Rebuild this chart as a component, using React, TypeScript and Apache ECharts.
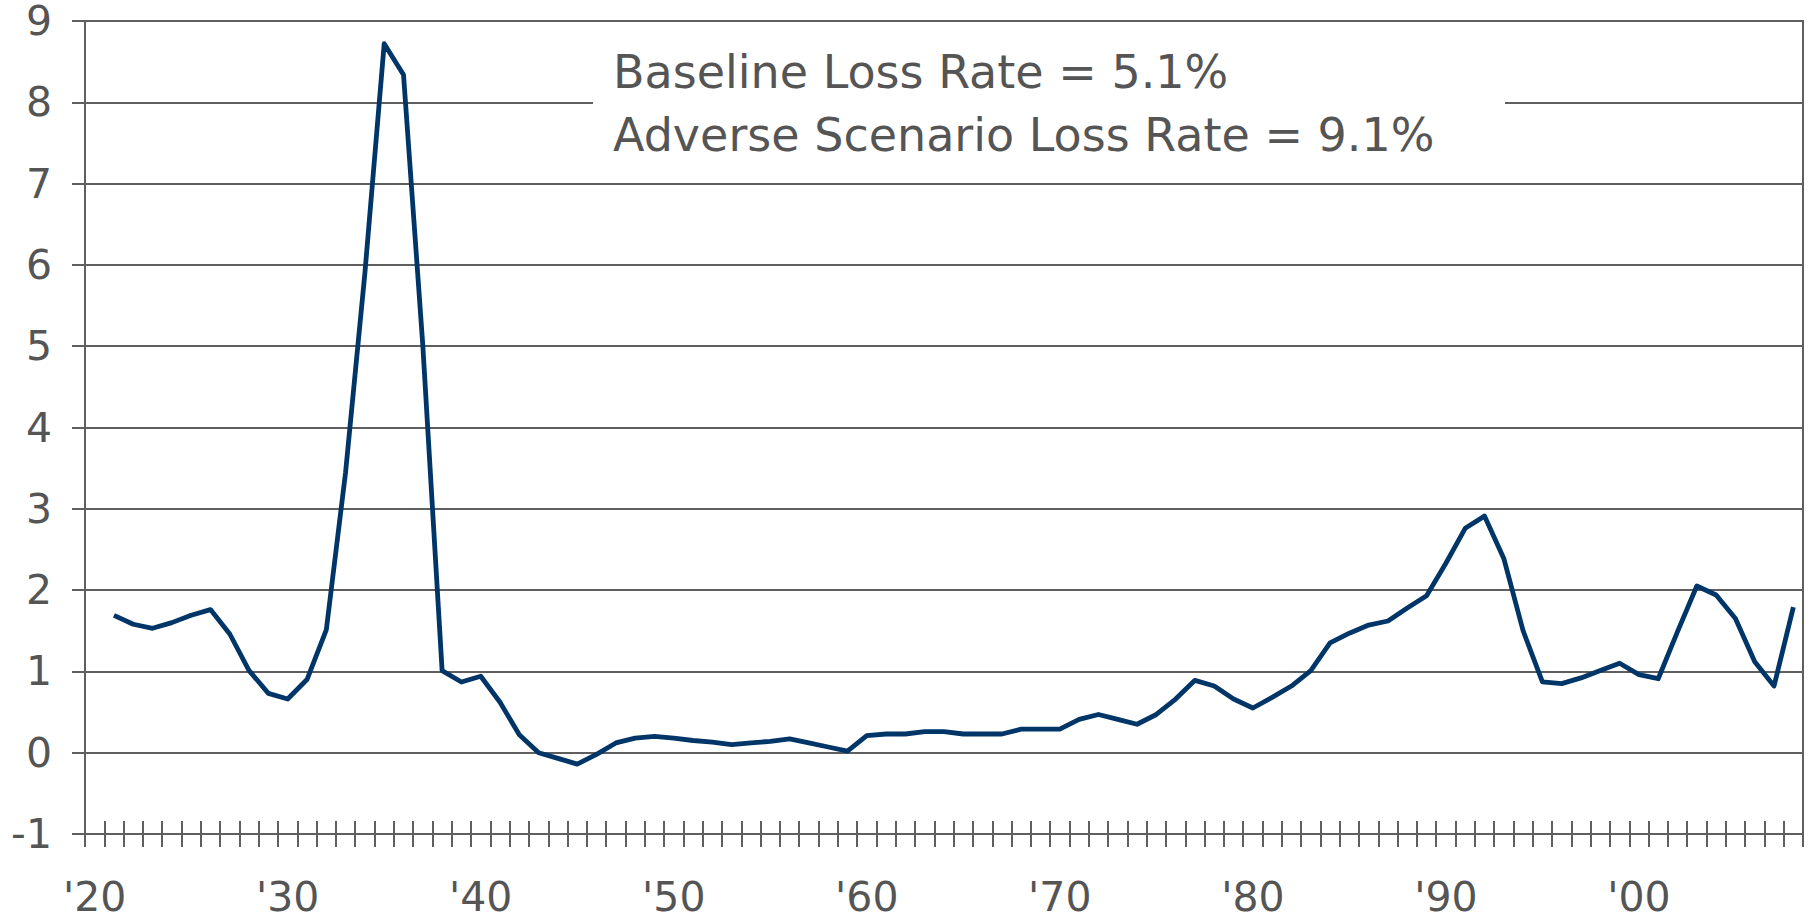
import React, { useEffect, useRef } from "react";
import * as echarts from "echarts";

// Categories: years 1920..2008 (one band per year)
const years: string[] = Array.from({ length: 89 }, (_, i) => String(1920 + i));

// Decade tick labels shown under the axis
const decadeYears = ["1920", "1930", "1940", "1950", "1960", "1970", "1980", "1990", "2000"];
const tickLabels = ["'20", "'30", "'40", "'50", "'60", "'70", "'80", "'90", "'00"];

// Loss rate (%) per year, 1920 has no value
const lossRate: (number | null)[] = [
  null, 1.69, 1.58, 1.53, 1.6, 1.69, 1.76, 1.46, 1.01, 0.73,
  0.66, 0.9, 1.51, 3.45, 5.9, 8.72, 8.34, 5.01, 1.01, 0.87,
  0.94, 0.62, 0.22, 0.0, -0.07, -0.14, -0.02, 0.12, 0.18, 0.2,
  0.18, 0.15, 0.13, 0.1, 0.12, 0.14, 0.17, 0.12, 0.07, 0.02,
  0.21, 0.23, 0.23, 0.26, 0.26, 0.23, 0.23, 0.23, 0.29, 0.29,
  0.29, 0.41, 0.47, 0.41, 0.35, 0.47, 0.66, 0.89, 0.82, 0.66,
  0.55, 0.68, 0.82, 1.01, 1.35, 1.47, 1.57, 1.62, 1.78, 1.93,
  2.33, 2.76, 2.91, 2.39, 1.5, 0.87, 0.85, 0.92, 1.01, 1.1,
  0.96, 0.91, 1.49, 2.05, 1.94, 1.65, 1.12, 0.82, 1.79,
];

// Annotation texts
const annotationLines = ["Baseline Loss Rate = 5.1%", "Adverse Scenario Loss Rate = 9.1%"];

const FONT = "'DejaVu Sans', Verdana, sans-serif";
const GRID_COLOR = "#5f5f5f";
const TEXT_COLOR = "#555555";

export default function App() {
  const ref = useRef<HTMLDivElement>(null);

  useEffect(() => {
    if (!ref.current) return;
    const chart = echarts.init(ref.current, undefined, { renderer: "svg" });

    const baseY = {
      type: "value" as const,
      min: -1,
      max: 9,
      interval: 1,
      position: "left" as const,
    };
    const baseX = {
      type: "category" as const,
      data: years,
      boundaryGap: true,
      position: "bottom" as const,
    };

    chart.setOption({
      animation: false,
      backgroundColor: "#ffffff",
      textStyle: { fontFamily: FONT },
      grid: {
        left: 85,
        right: 12,
        top: 21,
        bottom: 85,
        show: true,
        borderColor: GRID_COLOR,
        borderWidth: 2,
        containLabel: false,
      },
      xAxis: [
        {
          ...baseX,
          axisLine: { show: true, onZero: false, lineStyle: { color: GRID_COLOR, width: 2 } },
          axisTick: {
            show: true,
            interval: 0,
            inside: false,
            length: 13,
            lineStyle: { color: GRID_COLOR, width: 2 },
          },
          axisLabel: {
            show: true,
            interval: (_i: number, v: string) => decadeYears.includes(v),
            formatter: (v: string) => {
              const idx = decadeYears.indexOf(v);
              return idx >= 0 ? tickLabels[idx] : "";
            },
            margin: 42,
            fontSize: 41,
            color: TEXT_COLOR,
            fontFamily: FONT,
          },
          splitLine: { show: false },
        },
        {
          ...baseX,
          axisLine: { show: false, onZero: false },
          axisTick: {
            show: true,
            interval: 0,
            inside: true,
            length: 13,
            lineStyle: { color: GRID_COLOR, width: 2 },
          },
          axisLabel: { show: false },
          splitLine: { show: false },
        },
      ],
      yAxis: [
        {
          ...baseY,
          axisLine: { show: true, onZero: false, lineStyle: { color: GRID_COLOR, width: 2 } },
          axisTick: {
            show: true,
            inside: false,
            length: 13,
            lineStyle: { color: GRID_COLOR, width: 2 },
          },
          axisLabel: {
            show: true,
            margin: 33,
            fontSize: 41,
            color: TEXT_COLOR,
            fontFamily: FONT,
          },
          splitLine: { show: true, lineStyle: { color: GRID_COLOR, width: 2 } },
        },
        {
          ...baseY,
          axisLine: { show: false, onZero: false },
          axisTick: {
            show: true,
            inside: true,
            length: 13,
            lineStyle: { color: GRID_COLOR, width: 2 },
          },
          axisLabel: { show: false },
          splitLine: { show: false },
        },
      ],
      series: [
        {
          type: "line",
          data: lossRate,
          xAxisIndex: 0,
          yAxisIndex: 0,
          symbol: "none",
          connectNulls: false,
          lineStyle: { color: "#003568", width: 4.8, join: "round" },
          itemStyle: { color: "#003568" },
          z: 5,
        },
      ],
      graphic: [
        {
          type: "rect",
          left: 593,
          top: 42,
          shape: { width: 912, height: 120 },
          style: { fill: "#ffffff" },
          z: 50,
        },
        {
          type: "text",
          x: 613,
          y: 72,
          z: 60,
          style: {
            text: annotationLines[0],
            fontSize: 46,
            fontFamily: FONT,
            fill: TEXT_COLOR,
            verticalAlign: "middle",
            align: "left",
          },
        },
        {
          type: "text",
          x: 613,
          y: 135,
          z: 60,
          style: {
            text: annotationLines[1],
            fontSize: 46,
            fontFamily: FONT,
            fill: TEXT_COLOR,
            verticalAlign: "middle",
            align: "left",
          },
        },
      ],
    });

    return () => {
      chart.dispose();
    };
  }, []);

  return (
    <div
      ref={ref}
      style={{ position: "fixed", left: 0, top: 0, width: 1815, height: 919, background: "#fff" }}
    />
  );
}
